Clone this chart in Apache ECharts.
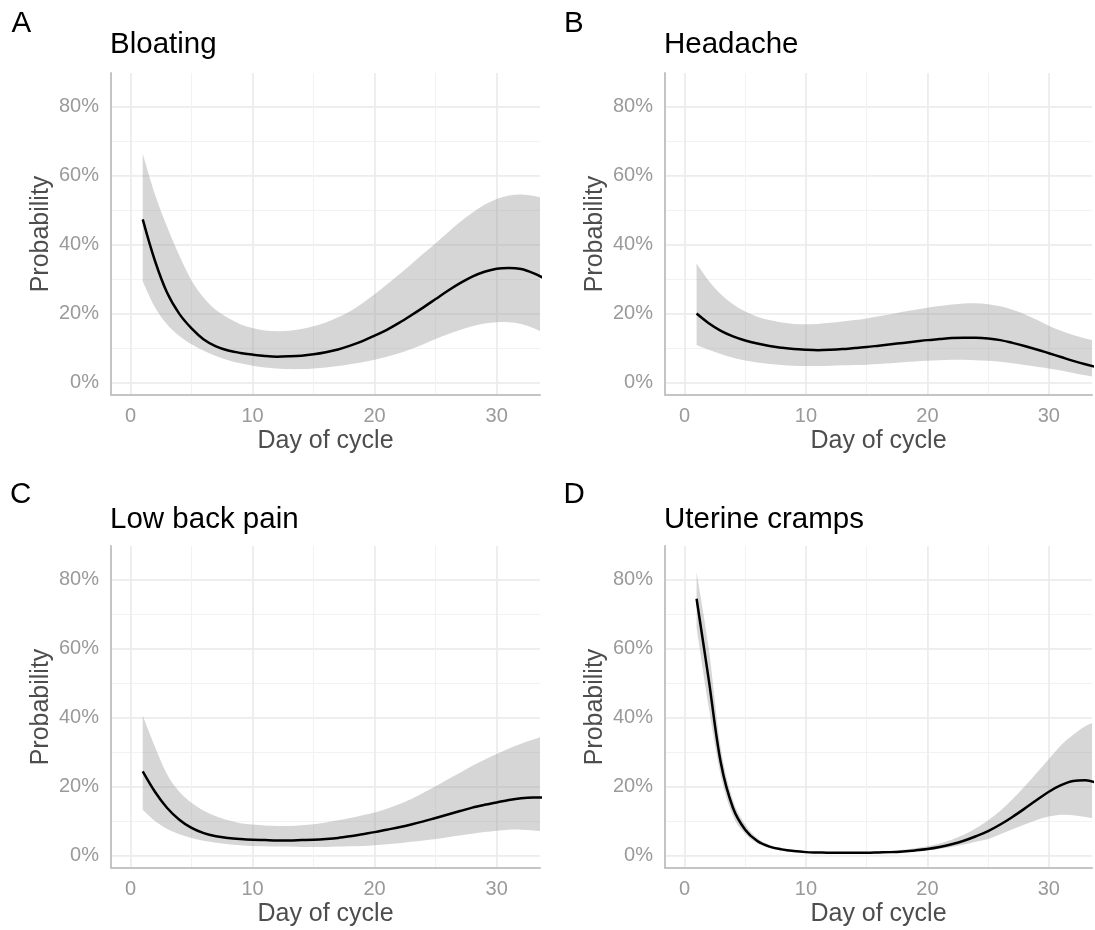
<!DOCTYPE html>
<html>
<head>
<meta charset="utf-8">
<script src="https://cdn.jsdelivr.net/npm/echarts@6/dist/echarts.min.js"></script>
<style>
html,body{margin:0;padding:0;background:#fff;}
#chart{width:1095px;height:930px;}
</style>
</head>
<body>
<div id="chart"></div>
<script>
// ---------------- data ----------------
const days = [1,2,3,4,5,6,7,8,9,10,11,12,13,14,15,16,17,18,19,20,21,22,23,24,25,26,27,28,29,30,31,32,33,34];

const panelTags = ['A','B','C','D'];
const panelTitles = ['Bloating','Headache','Low back pain','Uterine cramps'];
const xAxisTitle = 'Day of cycle';
const yAxisTitle = 'Probability';

// probability in percent
const bloatingFit = [47.3,35.3,26,19.9,15.7,12.5,10.5,9.3,8.6,8.1,7.7,7.5,7.6,7.8,8.2,8.8,9.6,10.7,12,13.6,15.3,17.3,19.5,21.8,24.2,26.6,28.8,30.7,32.1,33,33.2,32.9,31.7,30];
const bloatingLo  = [29.3,21.8,16.8,13.5,11.1,9.2,7.7,6.5,5.6,4.9,4.4,4.1,3.9,3.9,4.1,4.4,4.8,5.3,5.9,6.6,7.5,8.5,9.7,11.1,12.6,14,15.2,16.3,17.1,17.5,17.5,17,15.8,14.2];
const bloatingHi  = [66.3,54.6,45.1,36.8,29.6,24.6,21,18.7,16.9,15.8,15.1,14.9,15,15.5,16.3,17.4,18.9,20.7,23,25.6,28.4,31.3,34.3,37.4,40.4,43.5,46.5,49.2,51.5,53.2,54.2,54.5,54.1,53.3];

const headacheFit = [20,17.2,15,13.4,12.2,11.3,10.6,10.1,9.7,9.5,9.4,9.5,9.7,10,10.3,10.7,11.1,11.5,11.9,12.3,12.6,12.9,13,13,12.8,12.3,11.5,10.6,9.6,8.5,7.4,6.3,5.3,4.4];
const headacheLo  = [10.9,9.5,8.3,7.2,6.4,5.8,5.4,5.1,4.9,4.8,4.8,4.9,5,5.1,5.2,5.4,5.6,5.9,6.1,6.3,6.5,6.6,6.6,6.5,6.3,6,5.6,5.1,4.6,4.1,3.5,2.8,2.1,1.5];
const headacheHi  = [34.5,29.5,25.6,22.7,20.6,19.1,18.1,17.4,17,16.9,17,17.3,17.7,18.1,18.6,19.2,19.8,20.5,21.1,21.7,22.2,22.6,22.9,23,22.7,22.1,21.1,19.8,18.2,16.5,15,13.8,12.8,12];

const backFit = [24.4,18.5,13.8,10.4,8,6.5,5.6,5.1,4.8,4.6,4.5,4.4,4.4,4.5,4.6,4.8,5.1,5.6,6.2,6.8,7.5,8.2,9,9.9,10.9,11.9,12.9,13.9,14.7,15.4,16.1,16.6,16.8,16.8];
const backLo  = [13.3,10,7.7,6.2,5.1,4.3,3.7,3.3,3,2.8,2.7,2.6,2.6,2.5,2.5,2.5,2.6,2.7,2.8,3,3.3,3.6,4,4.4,4.8,5.3,5.8,6.3,6.8,7.2,7.5,7.5,7.3,7];
const backHi  = [40.6,31.5,23.5,18.5,15.3,13,11.4,10.2,9.4,9,8.7,8.6,8.6,8.8,9.1,9.6,10.2,10.9,11.7,12.5,13.6,14.9,16.4,18.2,20.1,22.1,24,26,27.8,29.4,31,32.4,33.6,34.8];

const crampsFit = [74.4,51,26.8,13.8,7.5,4.2,2.6,1.8,1.3,1,0.9,0.8,0.8,0.8,0.8,0.9,1,1.2,1.5,1.9,2.5,3.3,4.3,5.6,7.1,9,11.2,13.6,16.1,18.5,20.4,21.6,21.8,21];
const crampsLo  = [66,43,23,11.5,6.3,3.5,2.2,1.5,1,0.8,0.7,0.6,0.6,0.6,0.6,0.7,0.8,1,1.2,1.5,1.9,2.5,3.2,4,4.8,6.2,7.6,9,10.3,11.3,11.8,11.7,11.2,10.5];
const crampsHi  = [82.1,60,31,16,9,5,3.1,2.2,1.6,1.3,1.1,1,1,1,1,1.2,1.4,1.7,2.1,2.7,3.5,4.6,6,7.9,10.2,13,16.3,20,24,28,32,35,37.5,39];

const fits = [bloatingFit, headacheFit, backFit, crampsFit];
const los  = [bloatingLo, headacheLo, backLo, crampsLo];
const his  = [bloatingHi, headacheHi, backHi, crampsHi];

// ---------------- layout / style ----------------
const FONT = "'Liberation Sans', Arial, Helvetica, sans-serif";
const X_MIN = -1.6, X_MAX = 33.55;
const Y_MIN = -3.6, Y_MAX = 89.7;
const colLeft = [111, 665];
const rowTop = [73, 546];
const tagLeft = [[11.5, 564], [10, 563.5]];
const tagTop = [8.5, 480];
const titleLeft = [110, 664];
const titleTop = [29.5, 504.5];
const GW = 429, GH = 322;
const TITLE_SIZE = 29.5;

const grids = [], xAxes = [], yAxes = [], series = [], titles = [];

function isMult(v, step) { return Math.abs(v / step - Math.round(v / step)) < 1e-6; }

// Catmull-Rom spline through pixel points -> SVG path commands (without initial M)
function splineSegs(pts) {
  let s = '';
  const n = pts.length;
  for (let i = 0; i < n - 1; i++) {
    const p0 = pts[Math.max(i - 1, 0)], p1 = pts[i], p2 = pts[i + 1], p3 = pts[Math.min(i + 2, n - 1)];
    const c1x = p1[0] + (p2[0] - p0[0]) / 6, c1y = p1[1] + (p2[1] - p0[1]) / 6;
    const c2x = p2[0] - (p3[0] - p1[0]) / 6, c2y = p2[1] - (p3[1] - p1[1]) / 6;
    s += ' C' + c1x + ' ' + c1y + ' ' + c2x + ' ' + c2y + ' ' + p2[0] + ' ' + p2[1];
  }
  return s;
}

for (let i = 0; i < 4; i++) {
  const col = i % 2, row = Math.floor(i / 2);
  grids.push({ left: colLeft[col], top: rowTop[row], width: GW, height: GH });

  titles.push({ text: panelTags[i], left: tagLeft[row][col], top: tagTop[row], padding: 0,
    textStyle: { fontSize: TITLE_SIZE, fontWeight: 'normal', color: '#000', fontFamily: FONT } });
  titles.push({ text: panelTitles[i], left: titleLeft[col], top: titleTop[row], padding: 0,
    textStyle: { fontSize: TITLE_SIZE, fontWeight: 'normal', color: '#000', fontFamily: FONT } });

  // minor x axis (grid lines every 5)
  xAxes.push({ gridIndex: i, type: 'value', position: 'top', min: X_MIN, max: X_MAX,
    minInterval: 5, maxInterval: 5,
    axisLine: { show: false }, axisTick: { show: false }, axisLabel: { show: false },
    splitLine: { show: true, showMinLine: false, showMaxLine: false, lineStyle: { color: '#f2f2f2', width: 1 } } });
  // major x axis
  xAxes.push({ gridIndex: i, type: 'value', position: 'bottom', min: X_MIN, max: X_MAX,
    minInterval: 10, maxInterval: 10,
    axisLine: { show: true, onZero: false, lineStyle: { color: '#c4c4c4', width: 2 } },
    axisTick: { show: false },
    axisLabel: { margin: 11, color: '#9a9a9a', fontSize: 20, fontFamily: FONT,
      formatter: v => isMult(v, 10) ? String(Math.round(v)) : '' },
    splitLine: { show: true, showMinLine: false, showMaxLine: false, lineStyle: { color: '#ebebeb', width: 1.6 } },
    name: xAxisTitle, nameLocation: 'middle', nameGap: 34,
    nameTextStyle: { fontSize: 25, color: '#4d4d4d', fontFamily: FONT } });

  // minor y axis
  yAxes.push({ gridIndex: i, type: 'value', position: 'right', min: Y_MIN, max: Y_MAX,
    minInterval: 10, maxInterval: 10,
    axisLine: { show: false }, axisTick: { show: false }, axisLabel: { show: false },
    splitLine: { show: true, showMinLine: false, showMaxLine: false, lineStyle: { color: '#f2f2f2', width: 1 } } });
  // major y axis
  yAxes.push({ gridIndex: i, type: 'value', position: 'left', min: Y_MIN, max: Y_MAX,
    minInterval: 20, maxInterval: 20,
    axisLine: { show: true, onZero: false, lineStyle: { color: '#c4c4c4', width: 2 } },
    axisTick: { show: false },
    axisLabel: { margin: 12, color: '#9a9a9a', fontSize: 20, fontFamily: FONT,
      formatter: v => isMult(v, 20) ? Math.round(v) + '%' : '' },
    splitLine: { show: true, showMinLine: false, showMaxLine: false, lineStyle: { color: '#ebebeb', width: 1.6 } },
    name: yAxisTitle, nameLocation: 'middle', nameGap: 57,
    nameTextStyle: { fontSize: 25, color: '#4d4d4d', fontFamily: FONT } });

  const xi = 2 * i + 1, yi = 2 * i + 1;
  const lo = los[i], hi = his[i], fit = fits[i];

  // confidence ribbon: one closed smooth path built with the axis scales (api.coord)
  series.push({
    type: 'custom', xAxisIndex: xi, yAxisIndex: yi, silent: true, z: 2,
    data: days.map((d, k) => [d, lo[k], hi[k]]),
    encode: { x: 0, y: [1, 2] },
    renderItem: function (params, api) {
      if (params.dataIndex !== 0) return;
      const upper = days.map((d, k) => api.coord([d, hi[k]]));
      const lower = days.map((d, k) => api.coord([d, lo[k]])).reverse();
      let path = 'M' + upper[0][0] + ' ' + upper[0][1] + splineSegs(upper);
      path += ' L' + lower[0][0] + ' ' + lower[0][1] + splineSegs(lower) + ' Z';
      const cs = params.coordSys;
      return {
        type: 'path',
        shape: { pathData: path },
        style: { fill: 'rgba(153,153,153,0.4)', stroke: null },
        clipPath: { type: 'rect', shape: { x: cs.x, y: cs.y, width: cs.width, height: cs.height } }
      };
    }
  });
  series.push({ type: 'line', xAxisIndex: xi, yAxisIndex: yi,
    data: days.map((d, k) => [d, fit[k]]), symbol: 'none', smooth: 0.35,
    lineStyle: { color: '#000', width: 2.5 }, silent: true, z: 3 });
}

const chart = echarts.init(document.getElementById('chart'), null, { renderer: 'canvas' });
chart.setOption({
  animation: false,
  backgroundColor: '#fff',
  title: titles,
  grid: grids,
  xAxis: xAxes,
  yAxis: yAxes,
  series: series
});
</script>
</body>
</html>
